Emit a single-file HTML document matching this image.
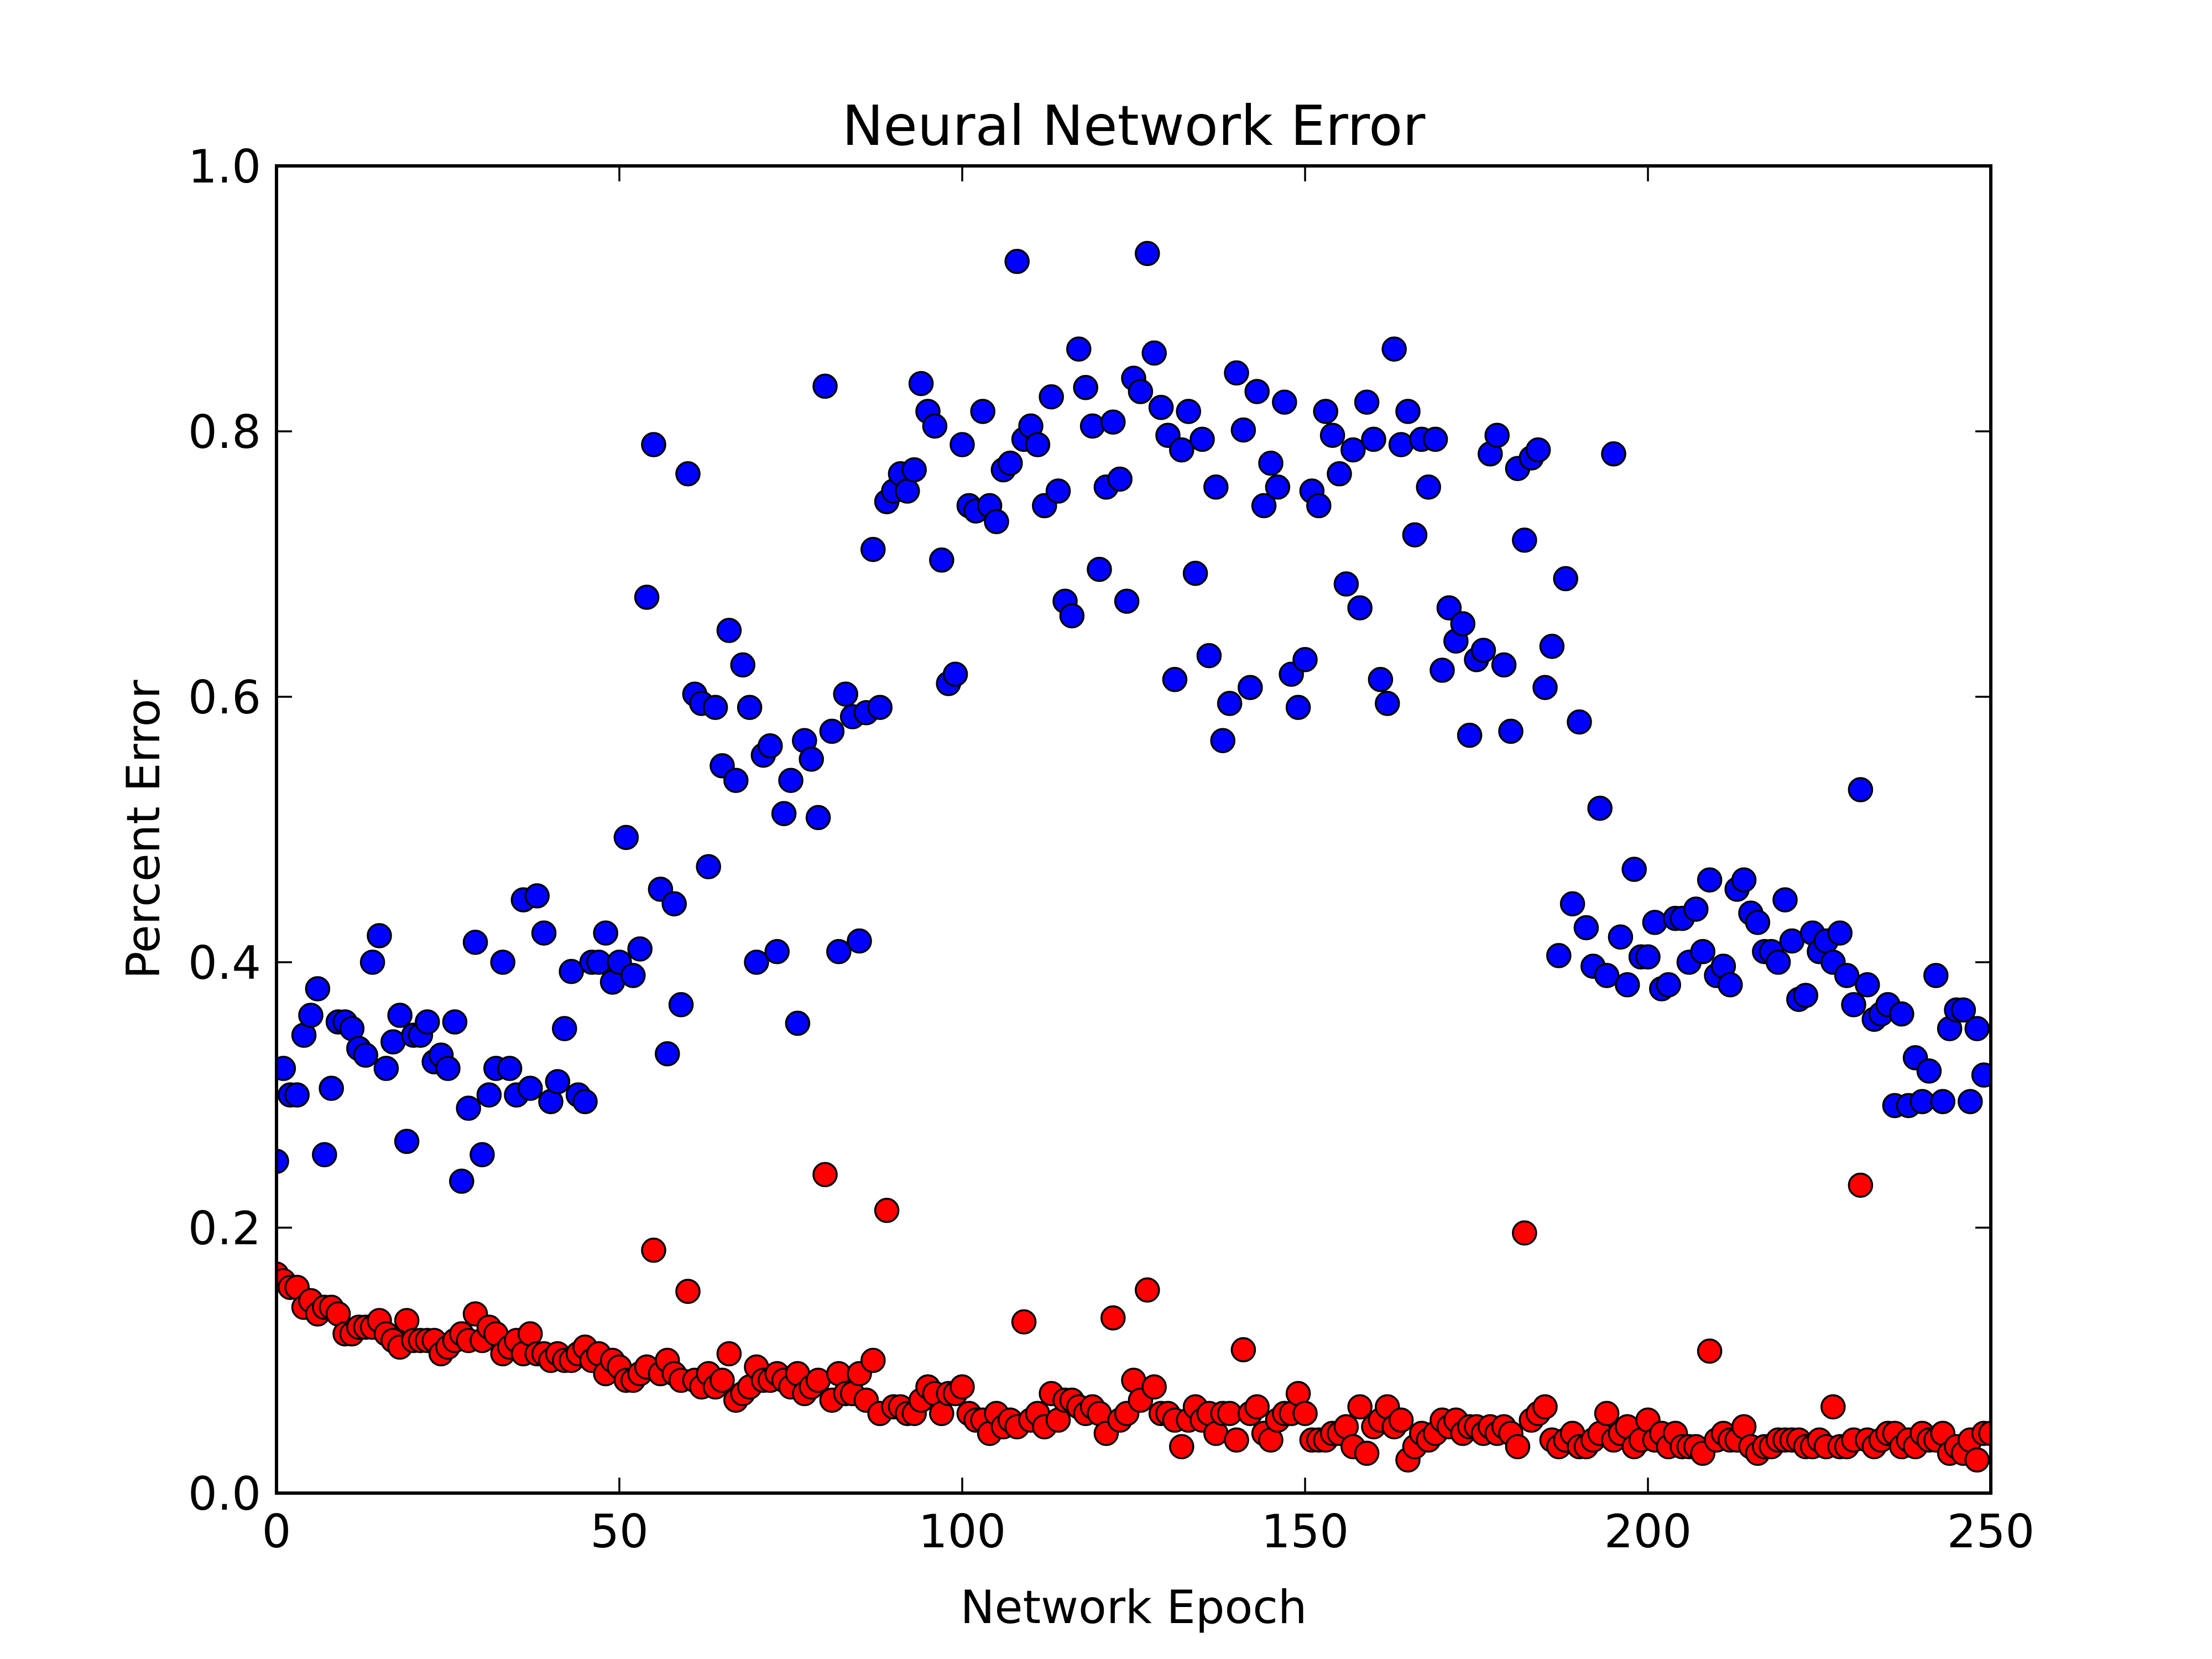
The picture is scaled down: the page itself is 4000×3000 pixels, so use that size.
<!DOCTYPE html>
<html><head><meta charset="utf-8"><style>
html,body{margin:0;padding:0;background:#fff;}
svg{display:block;font-family:"DejaVu Sans","Liberation Sans",sans-serif;}
</style></head><body>
<svg id="chart" width="4000" height="3000" viewBox="0 0 4000 3000">
<rect x="0" y="0" width="4000" height="3000" fill="#fff"/>
<text x="2050" y="262" font-size="100" text-anchor="middle">Neural Network Error</text>
<text x="2050" y="2935" font-size="83" text-anchor="middle">Network Epoch</text>
<text x="0" y="0" font-size="83" text-anchor="middle" transform="translate(288,1500) rotate(-90)">Percent Error</text>
<g id="marks"></g>
<g id="axes"></g>
</svg>
<script>
const xTicks=[0,50,100,150,200,250];
const xTickLabels=["0","50","100","150","200","250"];
const yTicks=[0,0.2,0.4,0.6,0.8,1.0];
const yTickLabels=["0.0","0.2","0.4","0.6","0.8","1.0"];
const blueErr=[0.25,0.32,0.30,0.30,0.345,0.36,0.38,0.255,0.305,0.355,0.355,0.35,0.335,0.33,0.40,0.42,0.32,0.34,0.36,0.265,0.345,0.345,0.355,0.325,0.33,0.32,0.355,0.235,0.29,0.415,0.255,0.30,0.32,0.40,0.32,0.30,0.447,0.305,0.45,0.422,0.295,0.31,0.35,0.393,0.30,0.295,0.40,0.40,0.422,0.385,0.40,0.494,0.39,0.41,0.675,0.79,0.455,0.331,0.444,0.368,0.768,0.602,0.595,0.472,0.592,0.548,0.65,0.537,0.624,0.592,0.40,0.556,0.563,0.408,0.512,0.537,0.354,0.567,0.553,0.509,0.834,0.574,0.408,0.602,0.585,0.416,0.588,0.711,0.592,0.747,0.755,0.768,0.755,0.771,0.836,0.815,0.804,0.703,0.61,0.617,0.79,0.744,0.74,0.815,0.744,0.732,0.771,0.776,0.928,0.794,0.804,0.79,0.744,0.826,0.755,0.672,0.661,0.862,0.833,0.804,0.696,0.758,0.807,0.764,0.672,0.84,0.83,0.934,0.859,0.818,0.797,0.613,0.786,0.815,0.693,0.794,0.631,0.758,0.567,0.595,0.844,0.801,0.607,0.83,0.744,0.776,0.758,0.822,0.617,0.592,0.628,0.755,0.744,0.815,0.797,0.768,0.685,0.786,0.667,0.822,0.794,0.613,0.595,0.862,0.79,0.815,0.722,0.794,0.758,0.794,0.62,0.667,0.642,0.655,0.571,0.628,0.635,0.783,0.797,0.624,0.574,0.772,0.718,0.78,0.786,0.607,0.638,0.405,0.689,0.444,0.581,0.426,0.397,0.516,0.39,0.783,0.419,0.383,0.47,0.404,0.404,0.43,0.38,0.383,0.433,0.433,0.40,0.44,0.408,0.462,0.39,0.397,0.383,0.455,0.462,0.437,0.43,0.408,0.408,0.40,0.447,0.416,0.372,0.375,0.422,0.408,0.416,0.40,0.422,0.39,0.368,0.53,0.383,0.357,0.361,0.368,0.292,0.361,0.292,0.328,0.295,0.318,0.39,0.295,0.35,0.364,0.364,0.295,0.35,0.315];
const redErr=[0.165,0.16,0.155,0.155,0.14,0.145,0.135,0.14,0.14,0.135,0.12,0.12,0.125,0.125,0.125,0.13,0.12,0.115,0.11,0.13,0.115,0.115,0.115,0.115,0.105,0.11,0.115,0.12,0.115,0.135,0.115,0.125,0.12,0.105,0.11,0.115,0.105,0.12,0.105,0.105,0.1,0.105,0.1,0.1,0.105,0.11,0.1,0.105,0.09,0.1,0.095,0.085,0.085,0.09,0.095,0.183,0.09,0.1,0.09,0.085,0.152,0.085,0.08,0.09,0.08,0.085,0.105,0.07,0.075,0.08,0.095,0.085,0.085,0.09,0.085,0.08,0.09,0.075,0.08,0.085,0.24,0.07,0.09,0.075,0.075,0.09,0.07,0.1,0.06,0.213,0.065,0.065,0.06,0.06,0.07,0.08,0.075,0.06,0.075,0.075,0.08,0.06,0.055,0.055,0.045,0.06,0.05,0.055,0.05,0.129,0.055,0.06,0.05,0.075,0.055,0.07,0.07,0.065,0.06,0.065,0.06,0.045,0.132,0.055,0.06,0.085,0.07,0.153,0.08,0.06,0.06,0.055,0.035,0.055,0.065,0.055,0.06,0.045,0.06,0.06,0.04,0.108,0.06,0.065,0.045,0.04,0.055,0.06,0.06,0.075,0.06,0.04,0.04,0.04,0.045,0.045,0.05,0.035,0.065,0.03,0.05,0.055,0.065,0.05,0.055,0.025,0.035,0.045,0.04,0.045,0.055,0.05,0.055,0.045,0.05,0.05,0.045,0.05,0.045,0.05,0.045,0.035,0.196,0.055,0.06,0.065,0.04,0.035,0.04,0.045,0.035,0.035,0.04,0.045,0.06,0.04,0.045,0.05,0.035,0.04,0.055,0.04,0.045,0.035,0.045,0.035,0.035,0.035,0.03,0.107,0.04,0.045,0.04,0.04,0.05,0.035,0.03,0.035,0.035,0.04,0.04,0.04,0.04,0.035,0.035,0.04,0.035,0.065,0.035,0.035,0.04,0.232,0.04,0.035,0.04,0.045,0.045,0.035,0.04,0.035,0.045,0.04,0.04,0.045,0.03,0.035,0.03,0.04,0.025,0.045,0.045];

const NS="http://www.w3.org/2000/svg";
const L=500,R=3600,T=300,B=2700;
function xScale(v){return L+(v-0)/(250-0)*(R-L);}
function yScale(v){return B-(v-0)/(1-0)*(B-T);}
const marks=document.getElementById('marks');
const axes=document.getElementById('axes');
function mk(tag,attrs,parent){const e=document.createElementNS(NS,tag);for(const k in attrs)e.setAttribute(k,attrs[k]);parent.appendChild(e);return e;}

const clip=mk('clipPath',{id:'pc'},marks);
mk('rect',{x:L,y:T,width:R-L,height:B-T},clip);
const gB=mk('g',{'clip-path':'url(#pc)'},marks);


blueErr.forEach((v,i)=>{
  const c=mk('circle',{cx:xScale(i),cy:yScale(v),r:21,fill:'#0000ff',stroke:'#000','stroke-width':3.5},gB);
  
  
});
const gR=mk('g',{'clip-path':'url(#pc)'},marks);


redErr.forEach((v,i)=>{
  const c=mk('circle',{cx:xScale(i),cy:yScale(v),r:21,fill:'#ff0000',stroke:'#000','stroke-width':3.5},gR);
  
  
});

xTicks.forEach((t,i)=>{
  const x=xScale(t);
  mk('line',{x1:x,y1:B,x2:x,y2:B-28,stroke:'#000','stroke-width':3.5},axes);
  mk('line',{x1:x,y1:T,x2:x,y2:T+28,stroke:'#000','stroke-width':3.5},axes);
  const tx=mk('text',{x:x,y:B+98,'font-size':83,'text-anchor':'middle'},axes);
  tx.textContent=xTickLabels[i];
  
  
});
yTicks.forEach((t,i)=>{
  const y=yScale(t);
  mk('line',{x1:L,y1:y,x2:L+28,y2:y,stroke:'#000','stroke-width':3.5},axes);
  mk('line',{x1:R,y1:y,x2:R-28,y2:y,stroke:'#000','stroke-width':3.5},axes);
  const tx=mk('text',{x:L-28,y:y+30,'font-size':83,'text-anchor':'end'},axes);
  tx.textContent=yTickLabels[i];
  
  
});
const frame=mk('rect',{x:L,y:T,width:R-L,height:B-T,fill:'none',stroke:'#000','stroke-width':6},axes);


</script>
</body></html>
